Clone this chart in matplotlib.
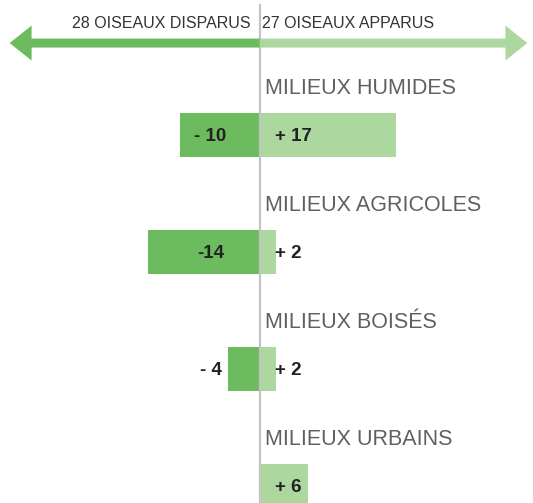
import matplotlib
matplotlib.use( "Agg" )
import matplotlib.pyplot as plt

# data
milieux = [ "MILIEUX HUMIDES", "MILIEUX AGRICOLES", "MILIEUX BOISÉS", "MILIEUX URBAINS" ]
disparus = [ 10, 14, 4, 0 ]
apparus = [ 17, 2, 2, 6 ]
labels_disparus = [ "- 10", "-14", "- 4", "" ]
labels_apparus = [ "+ 17", "+ 2", "+ 2", "+ 6" ]
total_disparus = "28 OISEAUX DISPARUS"
total_apparus = "27 OISEAUX APPARUS"

DARK = "#6dbb5f"
LIGHT = "#acd79e"
GRAY_LINE = "#c4c4c4"

fig = plt.figure( figsize=(5.33, 5.03), dpi=100 )
ax = fig.add_axes( [0, 0, 1, 1] )
ax.set_xlim( -32.5, 34.1 )
ax.set_ylim( 3.145, -1.154 )
ax.axis( "off" )

bar_h = 0.37
ys = list( range( len( milieux ) ) )

# bars
ax.barh( ys, [ -d for d in disparus ], height=bar_h, color=DARK, zorder=2 )
ax.barh( ys, apparus, height=bar_h, color=LIGHT, zorder=2 )

# centre line
ax.plot( [0, 0], [-1.11, 3.145], color=GRAY_LINE, lw=1.6, zorder=3 )

sans = [ "Liberation Sans", "DejaVu Sans" ]

for i in ys :
	ax.text( 0.6, i - 0.40, milieux[i], ha="left", va="center", fontsize=15.5,
		color="#606060", family=sans )
	if labels_disparus[i] :
		ax.text( -6.2, i + 0.01, labels_disparus[i], ha="center", va="center",
			fontsize=13.5, fontweight="bold", color="#222222", family=sans, zorder=4 )
	ax.text( 1.8, i + 0.01, labels_apparus[i], ha="left", va="center",
		fontsize=13.5, fontweight="bold", color="#222222", family=sans, zorder=4 )

# double arrow at top
y_arrow = -0.786
style = "simple,tail_width=0.27,head_width=1.05,head_length=0.66"
ax.annotate( "", xy=(-31.3, y_arrow), xytext=(0.05, y_arrow),
	arrowprops=dict( arrowstyle=style, mutation_scale=24, color=DARK, lw=0,
		shrinkA=0, shrinkB=0 ) )
ax.annotate( "", xy=(33.4, y_arrow), xytext=(-0.05, y_arrow),
	arrowprops=dict( arrowstyle=style, mutation_scale=24, color=LIGHT, lw=0,
		shrinkA=0, shrinkB=0 ) )

ax.text( -1.2, -0.957, total_disparus, ha="right", va="center", fontsize=11.5,
	color="#333333", family=sans )
ax.text( 0.3, -0.957, total_apparus, ha="left", va="center", fontsize=11.5,
	color="#333333", family=sans )

fig.savefig( "out.png", dpi=100 )
